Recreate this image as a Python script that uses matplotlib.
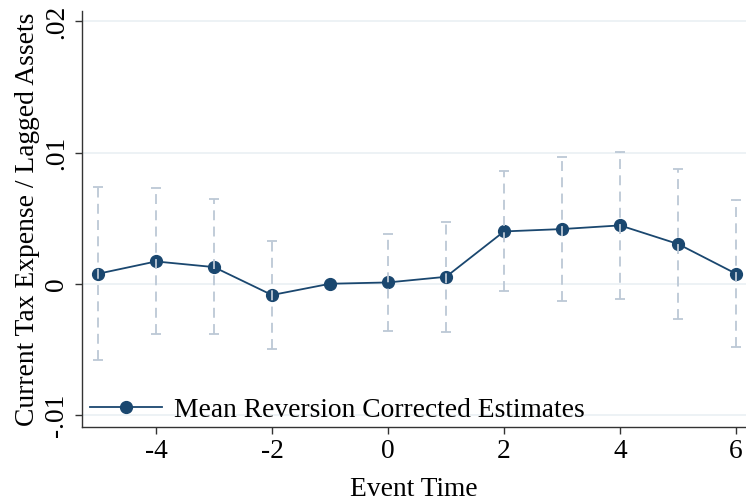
import numpy as np
import matplotlib.pyplot as plt

plt.rcParams['font.family'] = ['Liberation Serif', 'DejaVu Serif']
plt.rcParams['axes.unicode_minus'] = False

event_time = [-5, -4, -3, -2, -1, 0, 1, 2, 3, 4, 5, 6]
estimate = [0.00076, 0.0017, 0.00127, -0.00086, 0.0, 0.0001,
            0.00053, 0.00399, 0.00417, 0.00445, 0.00303, 0.00076]
ci_upper = [0.00735, 0.00728, 0.00644, 0.00326, np.nan, 0.0038,
            0.00468, 0.0086, 0.00967, 0.01008, 0.00878, 0.00639]
ci_lower = [-0.0058, -0.0038, -0.00387, -0.00494, np.nan, -0.00359,
            -0.00366, -0.00059, -0.00135, -0.00117, -0.00269, -0.00486]

navy = '#1a476f'
ci_color = '#bcc8d6'
grid_color = '#eaf0f4'
fs = 19.8

fig = plt.figure(figsize=(7.46, 5.04), dpi=100)
ax = fig.add_axes([0.1095, 0.1534, 0.8905, 0.8248])

est = np.array(estimate)
up = np.array(ci_upper)
lo = np.array(ci_lower)
has_ci = ~np.isnan(up)
x = np.array(event_time)

ax.plot(x, est, color=navy, lw=1.3, marker='o', markersize=8.5,
        label='Mean Reversion Corrected Estimates', zorder=3)

# confidence intervals drawn over the markers, dashed
eb = ax.errorbar(x[has_ci], est[has_ci],
                 yerr=[est[has_ci] - lo[has_ci], up[has_ci] - est[has_ci]],
                 fmt='none', ecolor=ci_color, elinewidth=1.3, capsize=3.5,
                 capthick=1.3, zorder=4)
eb[2][0].set_linestyle((0, (5.5, 3.5)))

ax.set_xlim(-5.28, 6.17)
ax.set_ylim(-0.0109, 0.0208)
ax.set_xticks([-4, -2, 0, 2, 4, 6])
ax.set_yticks([-0.01, 0, 0.01, 0.02])
ax.set_yticklabels(['-.01', '0', '.01', '.02'], rotation=90, va='center')

ax.yaxis.grid(True, color=grid_color, lw=1.2)
ax.set_axisbelow(True)
for side in ['top', 'right']:
    ax.spines[side].set_visible(False)
for side in ['left', 'bottom']:
    ax.spines[side].set_linewidth(1.0)
    ax.spines[side].set_color('#333333')
ax.tick_params(labelsize=fs, length=5, width=1.0, color='#333333', pad=4)

ax.set_xlabel('Event Time', fontsize=fs, labelpad=9)
ax.set_ylabel('Current Tax Expense / Lagged Assets', fontsize=fs, labelpad=3)

ax.legend(loc='lower left', bbox_to_anchor=(-0.012, -0.03), frameon=False,
          fontsize=fs, handlelength=2.6, borderaxespad=0.2, handletextpad=0.45)

fig.savefig('out.png', dpi=100)
